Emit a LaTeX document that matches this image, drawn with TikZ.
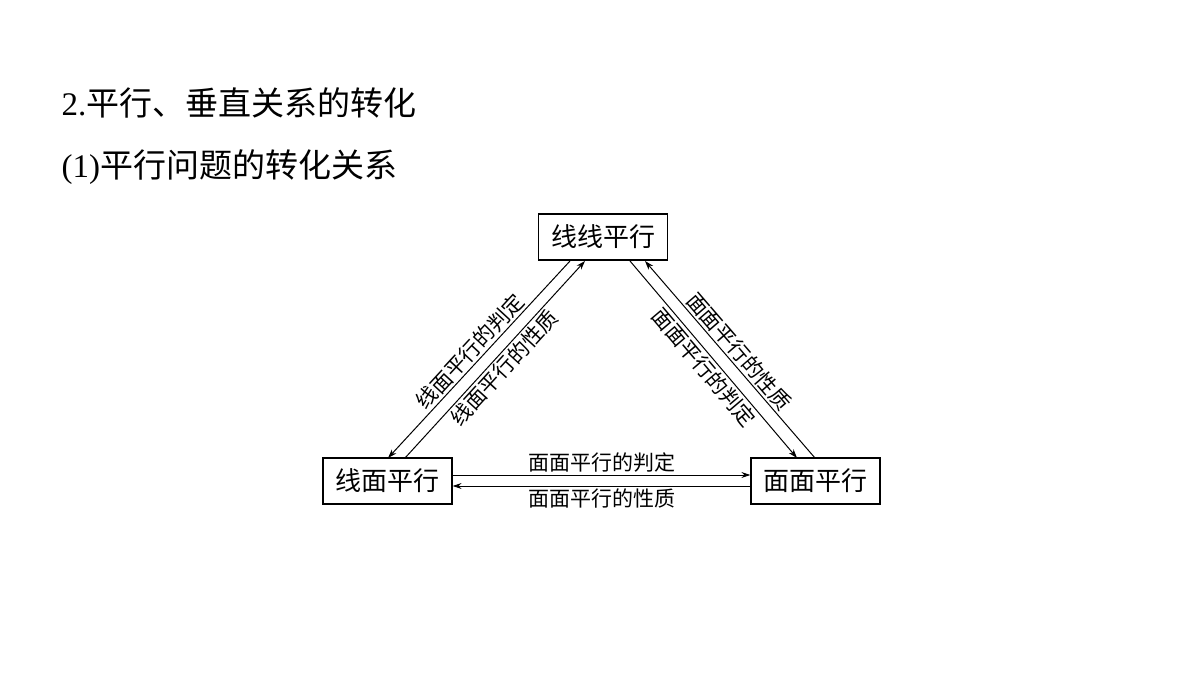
\documentclass[tikz,border=0pt]{standalone}
\usepackage{fontspec}
\setmainfont{Liberation Serif}
\newfontfamily\cjk{Noto Sans CJK SC}
\usetikzlibrary{arrows.meta}
\begin{document}
\begin{tikzpicture}[x=1pt,y=-1pt,
  box/.style={draw,line width=1.2pt,minimum width=129pt,minimum height=46pt,inner sep=0pt,font=\fontsize{26}{26}\selectfont\cjk},
  lab/.style={font=\fontsize{21}{21}\selectfont\cjk,inner sep=2pt},
  arr/.style={line width=1pt,-{Stealth[length=9pt,width=6pt]}}]
\useasboundingbox[fill=white] (0,0) rectangle (1200,675);
\node[anchor=west,font=\fontsize{33}{33}\selectfont] (t1) at (58,103) {2.{\cjk 平行、垂直关系的转化}};
\node[anchor=west,font=\fontsize{33}{33}\selectfont] (t2) at (58,167) {(1){\cjk 平行问题的转化关系}};
\node[box] (T) at (603,237) {线线平行};
\node[box] (L) at (387.5,481) {线面平行};
\node[box] (R) at (815.5,481) {面面平行};
% left pair
\coordinate (a1) at (570,261); \coordinate (a2) at (388,458);
\coordinate (b1) at (585,261); \coordinate (b2) at (405,458);
\draw[arr] (a1) -- (a2) node[lab,midway,sloped,above] {线面平行的判定};
\draw[arr] (b2) -- (b1) node[lab,midway,sloped,below] {线面平行的性质};
% right pair
\coordinate (c1) at (645,261); \coordinate (c2) at (815,458);
\coordinate (d1) at (630,261); \coordinate (d2) at (797,458);
\draw[arr] (c2) -- (c1) node[lab,midway,sloped,above] {面面平行的性质};
\draw[arr] (d1) -- (d2) node[lab,midway,sloped,below] {面面平行的判定};
% horizontal
\draw[arr] ([yshift=6pt]L.east) -- ([yshift=6pt]R.west) node[lab,midway,anchor=south] {面面平行的判定};
\draw[arr] ([yshift=-5pt]R.west) -- ([yshift=-5pt]L.east) node[lab,midway,anchor=north] {面面平行的性质};
\end{tikzpicture}
\end{document}
